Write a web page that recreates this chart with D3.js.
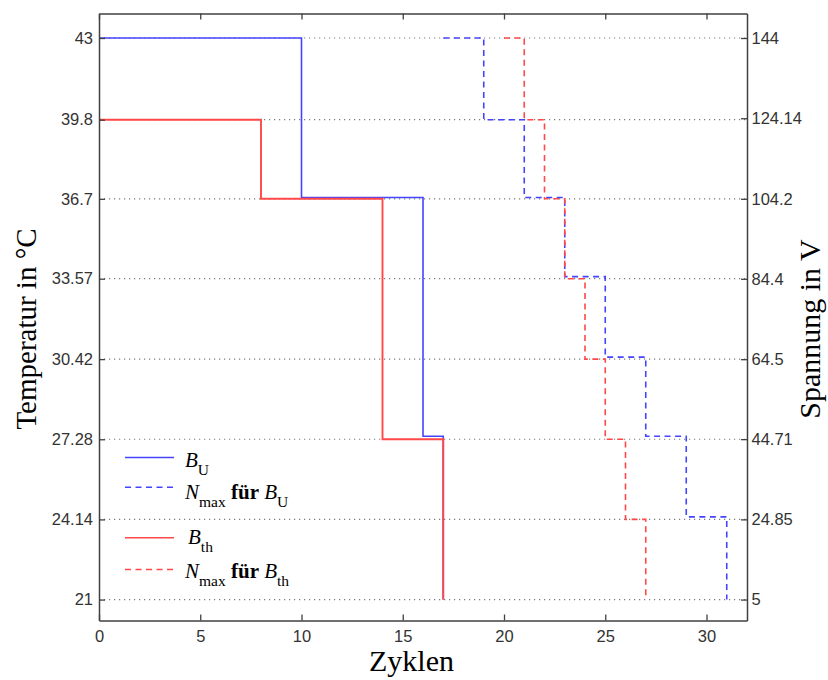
<!DOCTYPE html>
<html>
<head>
<meta charset="utf-8">
<script src="https://cdn.jsdelivr.net/npm/d3@7"></script>
<style>
  html, body { margin: 0; padding: 0; background: #fff; }
  svg { display: block; }
  .tick text { font-family: "Liberation Sans", Arial, sans-serif; font-size: 16.5px; fill: #333; }
  .title { font-family: "Liberation Serif", "Times New Roman", serif; fill: #000; }
  .leg { font-family: "Liberation Serif", "Times New Roman", serif; font-size: 21px; fill: #000; }
</style>
</head>
<body>
<svg id="chart" width="828" height="680"></svg>
<script>
// Temperature levels (left axis) and matching voltage levels (right axis)
const tempTicks = [21, 24.14, 27.28, 30.42, 33.57, 36.7, 39.8, 43];
const voltTicks = [5, 24.85, 44.71, 64.5, 84.4, 104.2, 124.14, 144];
const cycleTicks = [0, 5, 10, 15, 20, 25, 30];

// Step series: cycle where each level begins, and the level (°C)
const cyclesBU = [0, 10, 16, 17];
const tempsBU = [43, 36.75, 27.4, 21];

const cyclesBth = [0, 8, 14, 17];
const tempsBth = [39.8, 36.7, 27.28, 21];

const cyclesNmaxBU = [17, 19, 21, 23, 25, 27, 29, 31];
const tempsNmaxBU = [43, 39.8, 36.75, 33.65, 30.5, 27.4, 24.24, 21];

const cyclesNmaxBth = [20, 21, 22, 23, 24, 25, 26, 27];
const tempsNmaxBth = [43, 39.8, 36.7, 33.57, 30.42, 27.28, 24.14, 21];

const BLUE = "#4444ff", RED = "#ff4848";

const series = [
  { cycles: cyclesBU,      temps: tempsBU,      color: BLUE, dash: null,    w: 1.6 },
  { cycles: cyclesNmaxBU,  temps: tempsNmaxBU,  color: BLUE, dash: "6,4.5", w: 1.6 },
  { cycles: cyclesBth,     temps: tempsBth,     color: RED,  dash: null,    w: 1.9 },
  { cycles: cyclesNmaxBth, temps: tempsNmaxBth, color: RED,  dash: "6,4.5", w: 1.6 }
];

const legendItems = [
  { color: BLUE, dash: null,    pre: null,          sub: "U",  ly: 457.5, ty: 466.7, tx: 185 },
  { color: BLUE, dash: "6,4.5", pre: ["N", "max"],  sub: "U",  ly: 487.3, ty: 499,   tx: 185 },
  { color: RED,  dash: null,    pre: null,          sub: "th", ly: 537.7, ty: 544,   tx: 188 },
  { color: RED,  dash: "6,4.5", pre: ["N", "max"],  sub: "th", ly: 569.5, ty: 578,   tx: 185 }
];

const L = 99, R = 747, T = 13.5, B = 620.5;
const svg = d3.select("#chart");

const x = d3.scaleLinear().domain([0, 32]).range([L, R]);
const tLo = 20.18, tHi = 43.96;
const y = d3.scaleLinear().domain([tLo, tHi]).range([B, T]);
const toVolt = t => 5 + (t - 21) * (144 - 5) / (43 - 21);
const yR = d3.scaleLinear().domain([toVolt(tLo), toVolt(tHi)]).range([B, T]);

// dotted horizontal grid at every level
svg.append("g").selectAll("line").data(tempTicks).join("line")
  .attr("x1", L).attr("x2", R)
  .attr("y1", d => y(d)).attr("y2", d => y(d))
  .attr("stroke", "#7a7a7a").attr("stroke-width", 1.2)
  .attr("stroke-dasharray", "1.2,3.8");

// step lines
const line = d3.line().curve(d3.curveStepAfter);
series.forEach(s => {
  const pts = s.cycles.map((c, i) => [x(c), y(s.temps[i])]);
  svg.append("path")
    .attr("d", line(pts))
    .attr("fill", "none")
    .attr("stroke", s.color)
    .attr("stroke-width", s.w)
    .attr("stroke-dasharray", s.dash);
});

// axes (inward ticks) forming the frame
function styleAxis(g) {
  g.selectAll(".domain").attr("stroke", "#404040").attr("stroke-width", 1.5);
  g.selectAll(".tick line").attr("stroke", "#404040").attr("stroke-width", 1.3);
}
svg.append("g").attr("transform", `translate(0,${B})`)
  .call(d3.axisBottom(x).tickValues(cycleTicks).tickSize(-6).tickSizeOuter(0).tickPadding(9.5))
  .call(styleAxis).call(g => g.selectAll("text").attr("font-family", null).attr("font-size", null));
svg.append("g").attr("transform", `translate(0,${T})`)
  .call(d3.axisTop(x).tickValues(cycleTicks).tickSize(-6).tickSizeOuter(0).tickFormat(""))
  .call(styleAxis);
svg.append("g").attr("transform", `translate(${L},0)`)
  .call(d3.axisLeft(y).tickValues(tempTicks).tickSize(-6).tickSizeOuter(0).tickPadding(6).tickFormat(d => String(d)))
  .call(styleAxis).call(g => g.selectAll("text").attr("font-family", null).attr("font-size", null));
svg.append("g").attr("transform", `translate(${R},0)`)
  .call(d3.axisRight(yR).tickValues(voltTicks).tickSize(-6).tickSizeOuter(0).tickPadding(4.5).tickFormat(d => String(d)))
  .call(styleAxis).call(g => g.selectAll("text").attr("font-family", null).attr("font-size", null));

// axis titles
svg.append("text").attr("class", "title")
  .attr("transform", "translate(36,329) rotate(-90)")
  .attr("text-anchor", "middle").attr("font-size", 29)
  .text("Temperatur in °C");
svg.append("text").attr("class", "title")
  .attr("transform", "translate(820,329) rotate(-90)")
  .attr("text-anchor", "middle").attr("font-size", 30)
  .text("Spannung in V");
svg.append("text").attr("class", "title")
  .attr("x", 411.5).attr("y", 671)
  .attr("text-anchor", "middle").attr("font-size", 30)
  .text("Zyklen");

// legend
const leg = svg.append("g");
legendItems.forEach(it => {
  leg.append("line")
    .attr("x1", 125).attr("x2", 174).attr("y1", it.ly).attr("y2", it.ly)
    .attr("stroke", it.color).attr("stroke-width", 1.6)
    .attr("stroke-dasharray", it.dash);
  const t = leg.append("text").attr("class", "leg").attr("x", it.tx).attr("y", it.ty);
  if (it.pre) {
    t.append("tspan").attr("font-style", "italic").text(it.pre[0]);
    t.append("tspan").attr("font-size", 15.5).attr("dy", 8).text(it.pre[1]);
    t.append("tspan").attr("dy", -8).text(" ");
    t.append("tspan").attr("font-weight", "bold").text("für");
    t.append("tspan").text(" ");
  }
  t.append("tspan").attr("font-style", "italic").text("B");
  t.append("tspan").attr("font-size", 15.5).attr("dy", 8).text(it.sub);
});
</script>
</body>
</html>
